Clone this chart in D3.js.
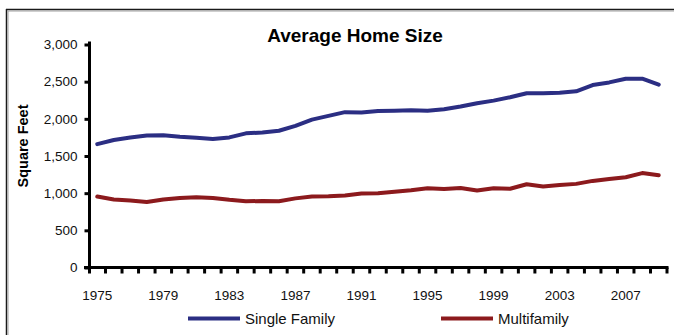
<!DOCTYPE html>
<html>
<head>
<meta charset="utf-8">
<script src="https://cdn.jsdelivr.net/npm/d3@7/dist/d3.min.js"></script>
<style>
  html, body { margin: 0; padding: 0; background: #fff; }
  svg { display: block; font-family: "Liberation Sans", Arial, sans-serif; }
</style>
</head>
<body>
<svg id="chart" width="674" height="335"></svg>
<script>
// Years 1975–2009
const years = d3.range(1975, 2010);
// Average new home size, square feet
const singleFamily = [1660, 1715, 1750, 1775, 1780, 1760, 1745, 1730, 1750, 1805,
                      1815, 1840, 1905, 1990, 2040, 2090, 2085, 2105, 2110, 2115,
                      2110, 2130, 2165, 2210, 2245, 2290, 2345, 2345, 2350, 2370,
                      2455, 2490, 2540, 2540, 2460];
const multifamily = [955, 915, 900, 880, 915, 935, 945, 935, 910, 890,
                     895, 890, 930, 955, 960, 970, 995, 1000, 1020, 1040,
                     1065, 1055, 1070, 1035, 1065, 1060, 1120, 1090, 1110, 1125,
                     1165, 1190, 1215, 1270, 1240];
const yTicks = [0, 500, 1000, 1500, 2000, 2500, 3000];
const xLabelYears = [1975, 1979, 1983, 1987, 1991, 1995, 1999, 2003, 2007];

const series = [
  { name: "Single Family", values: singleFamily, color: "#2B2E83" },
  { name: "Multifamily", values: multifamily, color: "#8C1A1D" }
];

const svg = d3.select("#chart");

// frame: dark rule with a soft grey shadow along the top and left
svg.append("line").attr("x1", 6).attr("x2", 674).attr("y1", 9.5).attr("y2", 9.5)
  .attr("stroke", "#1a1a1a").attr("stroke-width", 1.5);
svg.append("line").attr("x1", 8).attr("x2", 674).attr("y1", 11).attr("y2", 11)
  .attr("stroke", "#a0a0a0").attr("stroke-width", 1);
svg.append("line").attr("x1", 6.5).attr("x2", 6.5).attr("y1", 9).attr("y2", 335)
  .attr("stroke", "#1a1a1a").attr("stroke-width", 1.5);
svg.append("line").attr("x1", 8).attr("x2", 8).attr("y1", 11).attr("y2", 335)
  .attr("stroke", "#a0a0a0").attr("stroke-width", 1);

const x = d3.scaleBand().domain(years).range([89, 667]).padding(0);
const y = d3.scaleLinear().domain([0, 3000]).range([267.5, 44.5]);
const cx = d => x(d) + x.bandwidth() / 2;

// title
svg.append("text")
  .attr("x", 355).attr("y", 42)
  .attr("text-anchor", "middle")
  .attr("font-size", 19).attr("font-weight", "bold")
  .text("Average Home Size");

// y axis
const yAxis = d3.axisLeft(y).tickValues(yTicks).tickSize(5).tickPadding(7)
  .tickFormat(d3.format(","));
const gy = svg.append("g").attr("transform", "translate(89.5,0)").call(yAxis);
gy.select(".domain").remove();
gy.selectAll(".tick line").attr("stroke", "#000").attr("stroke-width", 3);
gy.selectAll(".tick text").attr("font-size", 13.5).attr("fill", "#111")
  .attr("font-family", "Liberation Sans, Arial, sans-serif");
svg.append("line")
  .attr("x1", 89.5).attr("x2", 89.5)
  .attr("y1", y(3000) - 3).attr("y2", 273.5)
  .attr("stroke", "#000").attr("stroke-width", 3);

// y axis title
svg.append("text")
  .attr("transform", "translate(28,146) rotate(-90)")
  .attr("text-anchor", "middle")
  .attr("font-size", 14.5).attr("font-weight", "bold")
  .text("Square Feet");

// x axis: baseline, boundary ticks between years, labels every fourth year
svg.append("line")
  .attr("x1", 84).attr("x2", x.range()[1] + 1.5)
  .attr("y1", y(0)).attr("y2", y(0))
  .attr("stroke", "#000").attr("stroke-width", 3);
const boundaries = years.slice(1).map(d => x(d)).concat([x.range()[1]]);
svg.append("g").selectAll("line").data(boundaries).join("line")
  .attr("x1", d => d).attr("x2", d => d)
  .attr("y1", y(0)).attr("y2", 273.5)
  .attr("stroke", "#000").attr("stroke-width", 3);
svg.append("g").selectAll("text").data(xLabelYears).join("text")
  .attr("x", d => cx(d)).attr("y", 300)
  .attr("text-anchor", "middle")
  .attr("font-size", 13.5).attr("fill", "#111")
  .text(d => d);

// series lines
const line = d3.line().x((d, i) => cx(years[i])).y(d => y(d));
svg.append("g").selectAll("path").data(series).join("path")
  .attr("d", s => line(s.values))
  .attr("fill", "none")
  .attr("stroke", s => s.color)
  .attr("stroke-width", 4)
  .attr("stroke-linejoin", "round")
  .attr("stroke-linecap", "round");

// legend
const legendX = [188, 441];
const lg = svg.append("g").selectAll("g").data(series).join("g")
  .attr("transform", (s, i) => `translate(${legendX[i]},318.5)`);
lg.append("line").attr("x1", 0).attr("x2", 52).attr("y1", 0).attr("y2", 0)
  .attr("stroke", s => s.color).attr("stroke-width", 4);
lg.append("text").attr("x", 57).attr("y", 5).attr("font-size", 15).attr("fill", "#111")
  .text(s => s.name);
</script>
</body>
</html>
